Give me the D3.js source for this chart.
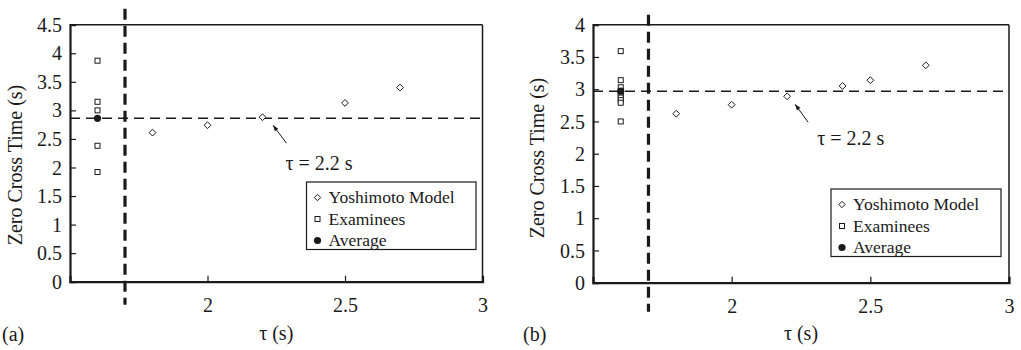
<!DOCTYPE html>
<html>
<head>
<meta charset="utf-8">
<script src="https://cdn.jsdelivr.net/npm/d3@7"></script>
<style>
  html, body { margin: 0; padding: 0; background: #fff; }
  svg { display: block; }
  text { font-family: "Liberation Serif", "Times New Roman", serif; fill: #1a1a1a; }
</style>
</head>
<body>
<svg id="chart" width="1021" height="350"></svg>
<script>
// ---------------- data ----------------
const panelLabels = ["(a)", "(b)"];
const xTickValues = [2, 2.5, 3];
const yTicksA = [0, 0.5, 1, 1.5, 2, 2.5, 3, 3.5, 4, 4.5];
const yTicksB = [0, 0.5, 1, 1.5, 2, 2.5, 3, 3.5, 4];
const xLabel = "τ (s)";
const yLabel = "Zero Cross Time (s)";
const legendLabels = ["Yoshimoto Model", "Examinees", "Average"];
const annotationText = "τ = 2.2 s";
const annotationTau = 2.2;
const separatorTau = 1.7;
const examineeTau = 1.6;

const modelTauA = [1.8, 2.0, 2.2, 2.5, 2.7];
const modelZctA = [2.61, 2.74, 2.88, 3.13, 3.40];
const examineeZctA = [3.87, 3.15, 3.00, 2.38, 1.92];
const averageZctA = 2.86;

const modelTauB = [1.8, 2.0, 2.2, 2.4, 2.5, 2.7];
const modelZctB = [2.62, 2.76, 2.89, 3.05, 3.14, 3.37];
const examineeZctB = [3.59, 3.14, 3.03, 2.97, 2.92, 2.87, 2.83, 2.79, 2.50];
const averageZctB = 2.97;

// ---------------- drawing ----------------
const svg = d3.select("#chart");
const ink = "#1a1a1a";

function diamondPath(r) { return `M0,${-r}L${r},0L0,${r}L${-r},0Z`; }

function drawPanel(cfg) {
  const g = svg.append("g");
  const x = d3.scaleLinear().domain([1.5, 3]).range([cfg.left, cfg.right]);
  const y = d3.scaleLinear().domain([0, cfg.yMax]).range([cfg.bottom, cfg.top]);

  // frame (top & right thin)
  g.append("line").attr("x1", x(1.5)).attr("x2", x(3)).attr("y1", y(cfg.yMax)).attr("y2", y(cfg.yMax))
    .attr("stroke", ink).attr("stroke-width", 1.5);
  g.append("line").attr("x1", x(3)).attr("x2", x(3)).attr("y1", y(cfg.yMax)).attr("y2", y(0))
    .attr("stroke", ink).attr("stroke-width", 1.5);

  // y axis
  const yAxis = d3.axisLeft(y).tickValues(cfg.yTicks).tickSize(-6).tickPadding(8)
    .tickFormat(d => String(d));
  const ya = g.append("g").attr("transform", `translate(${cfg.left},0)`).call(yAxis);
  ya.select(".domain").attr("stroke", ink).attr("stroke-width", 2.2);
  ya.selectAll(".tick line").attr("stroke", ink).attr("stroke-width", 1.2);
  ya.selectAll(".tick text").attr("font-size", 20).attr("fill", ink)
    .attr("font-family", '"Liberation Serif", serif').attr("dy", "0.33em");

  // x axis
  const xAxis = d3.axisBottom(x).tickValues(xTickValues).tickSize(-6).tickPadding(16)
    .tickFormat(d => String(d));
  const xa = g.append("g").attr("transform", `translate(0,${cfg.bottom})`).call(xAxis);
  xa.select(".domain").attr("stroke", ink).attr("stroke-width", 2.2);
  xa.selectAll(".tick line").attr("stroke", ink).attr("stroke-width", 1.2);
  xa.selectAll(".tick text").attr("font-size", 20).attr("fill", ink)
    .attr("font-family", '"Liberation Serif", serif');

  // axis titles
  g.append("text").attr("x", (cfg.left + cfg.right) / 2).attr("y", cfg.xLabelY)
    .attr("text-anchor", "middle").attr("font-size", 20).text(xLabel);
  g.append("text")
    .attr("transform", `translate(${cfg.yLabelX},${cfg.yLabelCY}) rotate(-90)`)
    .attr("text-anchor", "middle").attr("font-size", 20).text(yLabel);

  // panel label
  g.append("text").attr("x", cfg.panelX).attr("y", 341).attr("font-size", 20).text(cfg.panelLabel);

  // horizontal dashed (average)
  g.append("line").attr("x1", x(1.5)).attr("x2", x(3))
    .attr("y1", y(cfg.average)).attr("y2", y(cfg.average))
    .attr("stroke", ink).attr("stroke-width", 1.5).attr("stroke-dasharray", "10,6");

  // vertical thick dashed separator
  g.append("line").attr("x1", x(separatorTau)).attr("x2", x(separatorTau))
    .attr("y1", cfg.top - cfg.sepAbove).attr("y2", cfg.bottom + cfg.sepBelow)
    .attr("stroke", ink).attr("stroke-width", 3.2).attr("stroke-dasharray", "11,6");

  // examinees
  g.selectAll(".ex").data(cfg.examinees).enter().append("rect")
    .attr("x", x(examineeTau) - 2.5).attr("y", d => y(d) - 2.5)
    .attr("width", 5).attr("height", 5)
    .attr("fill", "#fff").attr("stroke", ink).attr("stroke-width", 1);

  // average
  g.append("circle").attr("cx", x(examineeTau)).attr("cy", y(cfg.average)).attr("r", 3.6)
    .attr("fill", ink);

  // model
  g.selectAll(".md").data(cfg.modelTau.map((t, i) => [t, cfg.modelZct[i]])).enter()
    .append("path").attr("d", diamondPath(3.4))
    .attr("transform", d => `translate(${x(d[0])},${y(d[1])})`)
    .attr("fill", "#fff").attr("stroke", ink).attr("stroke-width", 1);

  // annotation
  const ai = cfg.modelTau.indexOf(annotationTau);
  const ax = x(annotationTau), ay = y(cfg.modelZct[ai]);
  const tipX = ax + cfg.arrowTip[0], tipY = ay + cfg.arrowTip[1];
  const tailX = ax + cfg.arrowTail[0], tailY = ay + cfg.arrowTail[1];
  g.append("line").attr("x1", tailX).attr("y1", tailY).attr("x2", tipX).attr("y2", tipY)
    .attr("stroke", ink).attr("stroke-width", 1);
  const ang = Math.atan2(tipY - tailY, tipX - tailX);
  const hl = 6, hw = 2.2;
  const bx = tipX - hl * Math.cos(ang), by = tipY - hl * Math.sin(ang);
  g.append("path").attr("d",
    `M${tipX},${tipY}L${bx + hw * Math.sin(ang)},${by - hw * Math.cos(ang)}L${bx - hw * Math.sin(ang)},${by + hw * Math.cos(ang)}Z`)
    .attr("fill", ink);
  g.append("text").attr("x", ax + cfg.textOff[0]).attr("y", ay + cfg.textOff[1])
    .attr("font-size", 20).text(annotationText);

  // legend
  const L = cfg.legend;
  g.append("rect").attr("x", L.x).attr("y", L.y).attr("width", L.w).attr("height", L.h)
    .attr("fill", "#fff").attr("stroke", ink).attr("stroke-width", 1.2);
  legendLabels.forEach((lab, i) => {
    const by0 = L.y + 21 + i * 21.5;
    const my = by0 - 5.5;
    const mx = L.x + 11;
    if (i === 0) {
      g.append("path").attr("d", diamondPath(3.2)).attr("transform", `translate(${mx},${my})`)
        .attr("fill", "#fff").attr("stroke", ink).attr("stroke-width", 1);
    } else if (i === 1) {
      g.append("rect").attr("x", mx - 2.5).attr("y", my - 2.5).attr("width", 5).attr("height", 5)
        .attr("fill", "#fff").attr("stroke", ink).attr("stroke-width", 1);
    } else {
      g.append("circle").attr("cx", mx).attr("cy", my).attr("r", 3.6).attr("fill", ink);
    }
    g.append("text").attr("x", L.x + 22).attr("y", by0).attr("font-size", 17.5).text(lab);
  });
}

drawPanel({
  left: 70, right: 482.5, top: 24.7, bottom: 281.7, yMax: 4.5, yTicks: yTicksA,
  modelTau: modelTauA, modelZct: modelZctA, examinees: examineeZctA, average: averageZctA,
  panelLabel: panelLabels[0], panelX: 2, xLabelY: 340, yLabelX: 22, yLabelCY: 165,
  sepAbove: 16, sepBelow: 23,
  arrowTip: [10.5, 8], arrowTail: [24, 26], textOff: [23, 53],
  legend: { x: 306.5, y: 182, w: 169.5, h: 67.5 }
});

drawPanel({
  left: 593, right: 1009, top: 24.7, bottom: 282.7, yMax: 4, yTicks: yTicksB,
  modelTau: modelTauB, modelZct: modelZctB, examinees: examineeZctB, average: averageZctB,
  panelLabel: panelLabels[1], panelX: 523, xLabelY: 340, yLabelX: 544, yLabelCY: 158,
  sepAbove: 10, sepBelow: 29,
  arrowTip: [8, 8], arrowTail: [21, 26], textOff: [30, 49],
  legend: { x: 831, y: 189, w: 170, h: 67.5 }
});
</script>
</body>
</html>
